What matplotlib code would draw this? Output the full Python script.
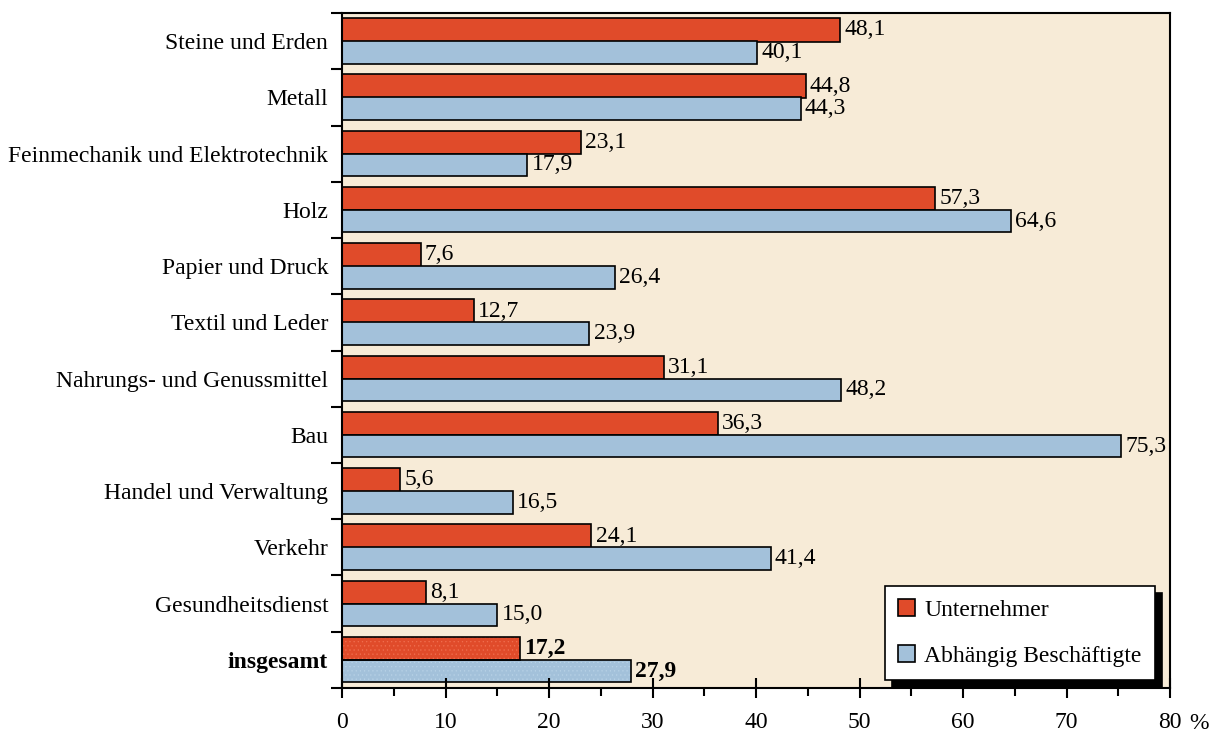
import numpy as np
import matplotlib.pyplot as plt

plt.rcParams['font.family'] = ['Liberation Serif', 'DejaVu Serif']
plt.rcParams['hatch.linewidth'] = 0.4

branchen = ["Steine und Erden", "Metall", "Feinmechanik und Elektrotechnik", "Holz",
            "Papier und Druck", "Textil und Leder", "Nahrungs- und Genussmittel", "Bau",
            "Handel und Verwaltung", "Verkehr", "Gesundheitsdienst", "insgesamt"]
unternehmer = [48.1, 44.8, 23.1, 57.3, 7.6, 12.7, 31.1, 36.3, 5.6, 24.1, 8.1, 17.2]
abhaengig = [40.1, 44.3, 17.9, 64.6, 26.4, 23.9, 48.2, 75.3, 16.5, 41.4, 15.0, 27.9]

rot = "#E04B2A"
blau = "#A3C1DA"
hintergrund = "#F7EBD7"

fig = plt.figure(figsize=(12.13, 7.4), dpi=100)
ax = fig.add_axes([0.282, 0.0703, 0.6826, 0.9121])
ax.set_facecolor(hintergrund)

y = np.arange(len(branchen))
n = len(branchen) - 1
b1 = ax.barh(y - 0.2, unternehmer, height=0.42, color=rot, edgecolor="black", linewidth=1.2,
             label="Unternehmer")
b2 = ax.barh(y + 0.2, abhaengig, height=0.4, color=blau, edgecolor="black", linewidth=1.2,
             label="Abhängig Beschäftigte")

# insgesamt leicht gerastert
b1[n].set_visible(False)
b2[n].set_visible(False)
ax.barh(y[n] - 0.2, unternehmer[n], height=0.42, color=rot, edgecolor="#F07050",
        linewidth=0, hatch="....")
ax.barh(y[n] + 0.2, abhaengig[n], height=0.4, color=blau, edgecolor="#B8D2E6",
        linewidth=0, hatch="....")
ax.barh(y[n] - 0.2, unternehmer[n], height=0.42, fill=False, edgecolor="black", linewidth=1.2)
ax.barh(y[n] + 0.2, abhaengig[n], height=0.4, fill=False, edgecolor="black", linewidth=1.2)

for i in range(len(branchen)):
    fw = "bold" if i == n else "normal"
    ax.text(unternehmer[i] + 0.4, y[i] - 0.2, f"{unternehmer[i]:.1f}".replace(".", ","),
            va="center", ha="left", fontsize=17, fontweight=fw)
    ax.text(abhaengig[i] + 0.4, y[i] + 0.2, f"{abhaengig[i]:.1f}".replace(".", ","),
            va="center", ha="left", fontsize=17, fontweight=fw)

ax.set_xlim(0, 80)
ax.set_ylim(len(branchen) - 0.5, -0.5)
ax.set_xticks(np.arange(0, 81, 10))
ax.set_xticks(np.arange(5, 80, 10), minor=True)
ax.tick_params(axis="x", which="major", direction="inout", length=14, width=1.5, labelsize=17, pad=10)
ax.tick_params(axis="x", which="minor", direction="out", length=6, width=1.5)

ax.set_yticks(y)
ax.set_yticklabels(branchen, fontsize=17)
ax.get_yticklabels()[-1].set_fontweight("bold")
ax.set_yticks(np.arange(-0.5, len(branchen), 1), minor=True)
ax.tick_params(axis="y", which="major", length=0, pad=10)
ax.tick_params(axis="y", which="minor", direction="out", length=8, width=1.5)

for s in ax.spines.values():
    s.set_linewidth(1.5)

ax.text(1.035, -0.052, "%", transform=ax.transAxes, fontsize=17, ha="center", va="center")

leg = ax.legend(handles=[b1, b2], loc="lower right", bbox_to_anchor=(0.9815, 0.012), fontsize=17,
                fancybox=False, shadow={"color": "black", "alpha": 1, "ox": 5, "oy": -5},
                edgecolor="black", framealpha=1, handlelength=0.7, handleheight=0.7,
                borderpad=0.55, labelspacing=1.05, handletextpad=0.4, borderaxespad=0)
leg.get_frame().set_linewidth(1.2)

fig.savefig("out.png", dpi=100)
